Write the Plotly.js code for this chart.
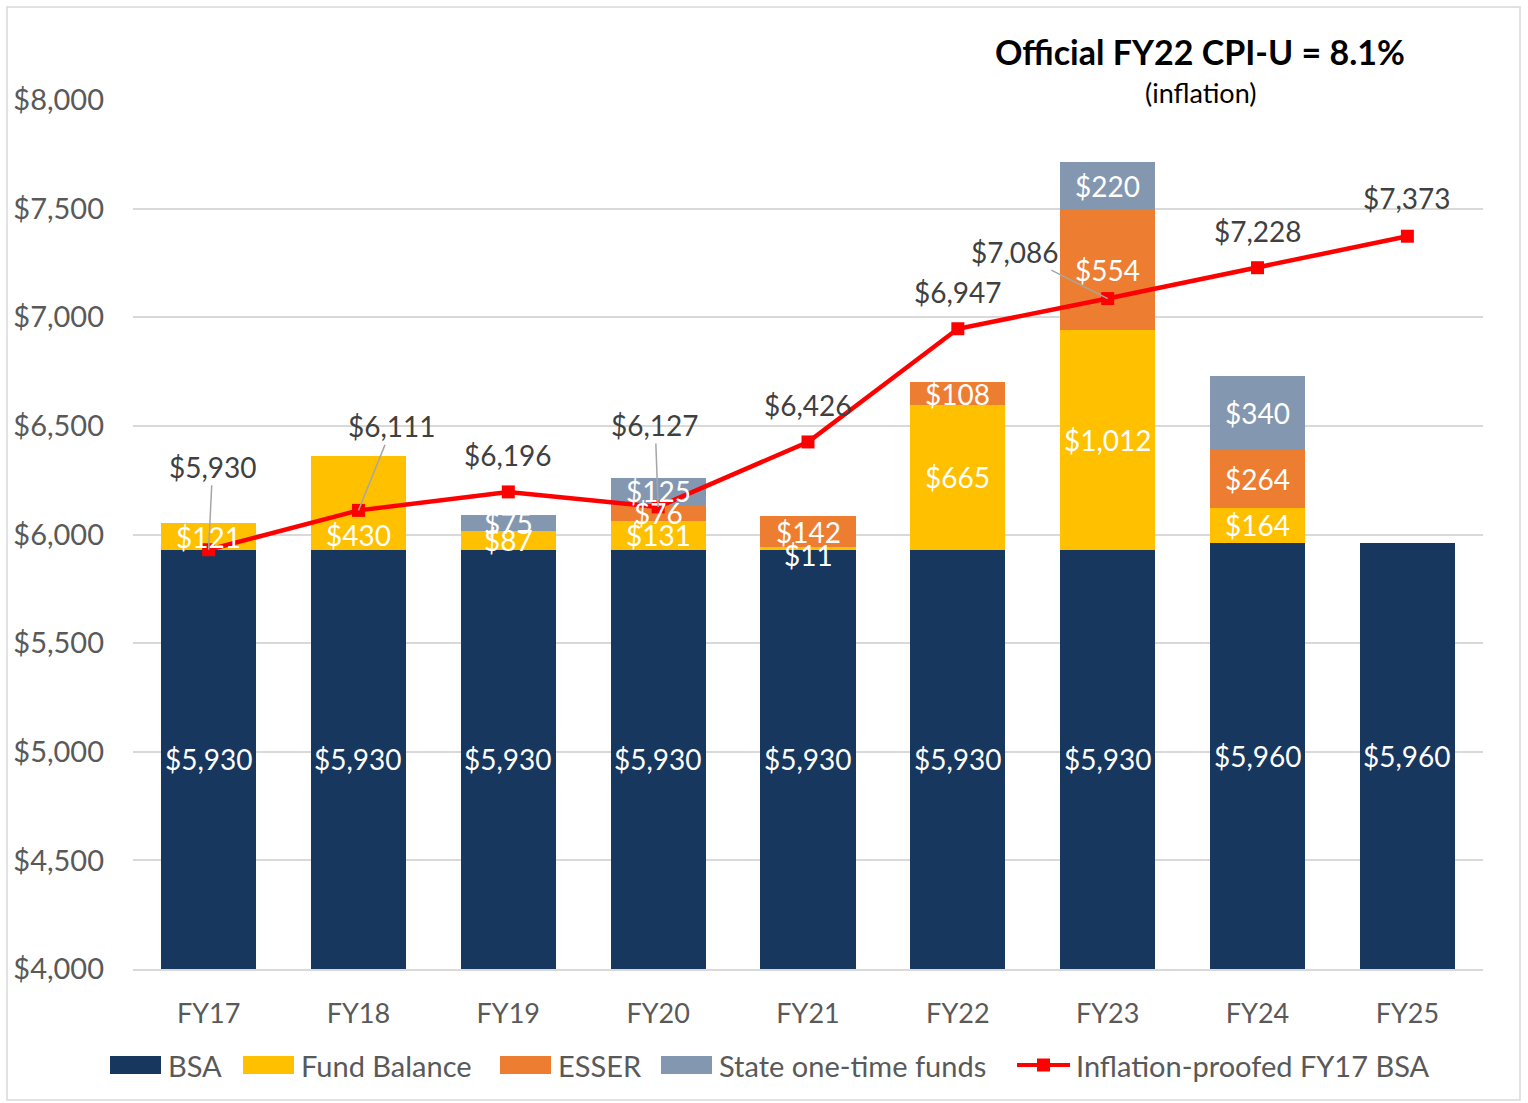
<!DOCTYPE html>
<html><head><meta charset="utf-8">
<script src="https://cdn.plot.ly/plotly-3.0.1.min.js"></script>
<style>html,body{margin:0;padding:0;background:#fff}#c{width:1528px;height:1103px}</style>
</head><body><div id="c"></div>
<script>
const categories = ["FY17","FY18","FY19","FY20","FY21","FY22","FY23","FY24","FY25"];
const bsa = [5930,5930,5930,5930,5930,5930,5930,5960,5960];
const fundBalance = [121,430,87,131,11,665,1012,164,0];
const esser = [0,0,0,76,142,108,554,264,0];
const stateOneTime = [0,0,75,125,0,0,220,340,0];
const inflationBSA = [5930,6111,6196,6127,6426,6947,7086,7228,7373];
const yTicks = [4000,4500,5000,5500,6000,6500,7000,7500,8000];

const FONT = "Lato, 'Open Sans', sans-serif";
const fmt = v => "$" + v.toLocaleString("en-US");
const yMin = 4000, yMax = 8000;

const L = 133, R = 45, T = 100, B = 134, W = 1528, H = 1103;
const pw = W - L - R, ph = H - T - B;
const px = x => (x - L) / pw;
const py = y => (H - B - y) / ph;

const series = [
  {name:"BSA", vals:bsa, color:"#17375E"},
  {name:"Fund Balance", vals:fundBalance, color:"#FFC000"},
  {name:"ESSER", vals:esser, color:"#ED7D31"},
  {name:"State one-time funds", vals:stateOneTime, color:"#8497B0"}
];
const lineName = "Inflation-proofed FY17 BSA";
const lineColor = "#FF0000";

const traces = series.map(s => ({
  type:"bar", name:s.name, x:categories, y:s.vals,
  marker:{color:s.color}, width:0.635, hoverinfo:"skip", showlegend:false
}));
traces.push({
  type:"scatter", mode:"lines+markers", name:lineName,
  x:categories, y:inflationBSA, showlegend:false,
  line:{color:lineColor, width:4.5}, marker:{symbol:"square", size:13, color:lineColor}
});

const labelNudge = {"FY18|Fund Balance":32, "FY21|Fund Balance":6};

const annotations = [];
categories.forEach((c,i) => {
  let base = 0;
  series.forEach(s => {
    const v = s.vals[i];
    if (v > 0) {
      const lo = Math.max(base, yMin), hi = base + v;
      const n = labelNudge[c + "|" + s.name] || 0;
      annotations.push({x:c, y:(lo+hi)/2, text:fmt(v), showarrow:false, yshift:-n,
        font:{family:FONT, size:28, color:"#FFFFFF"}});
    }
    base += v;
  });
});
const lineOffsets = [
  {ax:4, ay:-83, arrow:true},
  {ax:34, ay:-84, arrow:true},
  {ax:0, ay:-37, arrow:false},
  {ax:-3, ay:-82, arrow:true},
  {ax:0, ay:-37, arrow:false},
  {ax:0, ay:-37, arrow:false},
  {ax:-93, ay:-47, arrow:true},
  {ax:0, ay:-37, arrow:false},
  {ax:0, ay:-38, arrow:false}
];
categories.forEach((c,i) => {
  const o = lineOffsets[i];
  const f = {family:FONT, size:28, color:"#404040"};
  if (o.arrow) {
    annotations.push({x:c, y:inflationBSA[i], text:fmt(inflationBSA[i]), showarrow:true,
      arrowhead:0, arrowwidth:1.5, arrowcolor:"#A6A6A6", ax:o.ax, ay:o.ay, standoff:0, font:f});
  } else {
    annotations.push({x:c, y:inflationBSA[i], text:fmt(inflationBSA[i]), showarrow:false,
      yshift:-o.ay, font:f});
  }
});
annotations.push({xref:"paper", yref:"paper", x:px(1200), y:py(51), xanchor:"center", yanchor:"middle",
  text:"<b>Official FY22 CPI-U = 8.1%</b>", showarrow:false, font:{family:FONT, size:34, color:"#000000"}});
annotations.push({xref:"paper", yref:"paper", x:px(1200), y:py(93), xanchor:"center", yanchor:"middle",
  text:"(inflation)", showarrow:false, font:{family:FONT, size:27, color:"#000000"}});

const shapes = [{type:"rect", xref:"paper", yref:"paper", x0:px(7), x1:px(1520), y0:py(1100), y1:py(7),
  line:{color:"#D9D9D9", width:1.5}, fillcolor:"rgba(0,0,0,0)", layer:"below"}];
const legY = 1065;
const swatchX = [110, 243, 500, 661];
series.forEach((s,k) => {
  const x0 = swatchX[k];
  shapes.push({type:"rect", xref:"paper", yref:"paper", x0:px(x0), x1:px(x0+51), y0:py(legY+9), y1:py(legY-9),
    fillcolor:s.color, line:{width:0}});
  annotations.push({xref:"paper", yref:"paper", x:px(x0+56), y:py(legY), xanchor:"left", yanchor:"middle",
    text:s.name, showarrow:false, font:{family:FONT, size:29, color:"#595959"}});
});
shapes.push({type:"line", xref:"paper", yref:"paper", x0:px(1017), x1:px(1070), y0:py(legY), y1:py(legY),
  line:{color:lineColor, width:4}});
shapes.push({type:"rect", xref:"paper", yref:"paper", x0:px(1037), x1:px(1050), y0:py(legY+6.5), y1:py(legY-6.5),
  fillcolor:lineColor, line:{width:0}});
annotations.push({xref:"paper", yref:"paper", x:px(1074), y:py(legY), xanchor:"left", yanchor:"middle",
  text:lineName, showarrow:false, font:{family:FONT, size:29, color:"#595959"}});

const layout = {
  width:W, height:H,
  margin:{l:L, r:R, t:T, b:B},
  paper_bgcolor:"#fff", plot_bgcolor:"#fff",
  barmode:"stack",
  font:{family:FONT, size:27, color:"#595959"},
  showlegend:false,
  xaxis:{type:"category", showgrid:false, showline:true, linecolor:"#D9D9D9", linewidth:2,
    ticks:"", tickfont:{family:FONT, size:27, color:"#595959"}, ticklabelstandoff:20},
  yaxis:{range:[yMin,yMax], tickvals:yTicks, ticktext:yTicks.map(fmt), showgrid:true,
    gridcolor:"#D9D9D9", gridwidth:2, zeroline:false, showline:false, ticks:"",
    tickfont:{family:FONT, size:29, color:"#595959"}, ticklabelstandoff:28},
  annotations:annotations,
  shapes:shapes
};
Plotly.newPlot("c", traces, layout, {displayModeBar:false, staticPlot:true});
</script></body></html>
